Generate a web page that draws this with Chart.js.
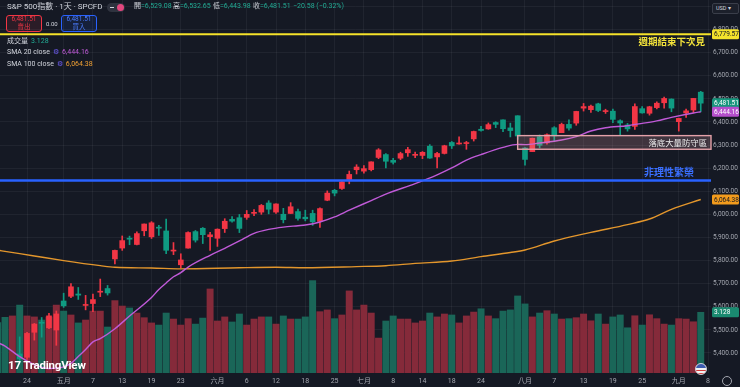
<!DOCTYPE html>
<html lang="zh-Hant">
<head>
<meta charset="UTF-8">
<meta name="viewport" content="width=device-width, initial-scale=1.0">
<title>S&P 500指數 · 1天 · SPCFD</title>
<script src="https://cdn.jsdelivr.net/npm/chart.js@4.4.1/dist/chart.umd.min.js"></script>
<style>
    html, body { margin: 0; padding: 0; background: #151924; }
    .wrap {
        position: relative; width: 740px; height: 387px; overflow: hidden;
        font-family: Roboto, "Noto Sans CJK TC", sans-serif; color: #d1d4dc;
    }
    #chart { position: absolute; left: 0; top: 0; }
    .ov { position: absolute; white-space: nowrap; line-height: 1; }
    .title { left: 7px; top: 3px; font-size: 8px; }
    .pill { left: 107px; top: 3px; width: 18px; height: 9px; border-radius: 5px; background: #2f333f; }
    .pill i { position: absolute; right: 1px; top: 1px; width: 7px; height: 7px; border-radius: 50%; background: #e2477e; }
    .pill s { position: absolute; left: 3px; top: 4px; width: 4px; height: 1px; background: #d1d4dc; }
    .ohlc { top: 3px; font-size: 7px; }
    .ohlc span { color: #22ab94; }
    .btn {
        position: absolute; top: 15px; width: 34px; height: 15px; border: 1px solid;
        border-radius: 3px; font-size: 6.5px; text-align: center; line-height: 7.5px;
    }
    .sell { left: 6px; border-color: #f23645; color: #f23645; background: rgba(242, 54, 69, 0.1); }
    .buy { left: 61px; border-color: #2962ff; color: #4b7dff; background: rgba(41, 98, 255, 0.1); }
    .spread { left: 46px; top: 21px; font-size: 6px; }
    .leg { left: 7px; font-size: 7px; }
    .leg span { margin-left: 3px; }
    .gear { color: #6d5cf0; font-size: 7px; margin-left: 3px; }
    .usd {
        left: 712px; top: 3px; width: 25px; height: 9px; border: 1px solid #3a3e4a; border-radius: 2px;
        background: #1c202b; font-size: 5.5px; line-height: 9px; text-indent: 3px;
    }
    .logo { left: 8px; top: 360px; font-size: 11.5px; font-weight: bold; color: #fff; letter-spacing: -0.2px; }
    .flag {
        left: 695px; top: 363px; width: 10px; height: 10px; border-radius: 50%;
        background: linear-gradient(#3c5bb0 0 45%, transparent 45%), repeating-linear-gradient(#d23b3b 0 1.5px, #f2f2f2 1.5px 3px);
        border: 1px solid #d1d4dc;
    }
    .cog { left: 722px; top: 376px; width: 8px; height: 8px; border-radius: 50%; border: 1px solid #a3a6af; }
</style>
</head>
<body>
<div class="wrap">
    <canvas id="chart" width="740" height="387"></canvas>

    <div class="ov title">S&amp;P 500指數 · 1天 · SPCFD</div>
    <div class="ov pill"><s></s><i></i></div>
    <div class="ov ohlc" style="left:134px">開<span id="vOpen"></span></div>
    <div class="ov ohlc" style="left:173px">高<span id="vHigh"></span></div>
    <div class="ov ohlc" style="left:213px">低<span id="vLow"></span></div>
    <div class="ov ohlc" style="left:253px">收<span id="vClose"></span></div>
    <div class="ov ohlc" style="left:293px"><span id="vChange"></span></div>

    <div class="btn sell"><span class="px"></span><br>賣出</div>
    <div class="ov spread">0.00</div>
    <div class="btn buy"><span class="px"></span><br>買入</div>

    <div class="ov leg" style="top:38px">成交量<span id="vVol" style="color:#22ab94"></span></div>
    <div class="ov leg" style="top:49px">SMA 20 close<span class="gear">⚙</span><span id="vSma20" style="color:#c05ad8"></span></div>
    <div class="ov leg" style="top:61px">SMA 100 close<span class="gear">⚙</span><span id="vSma100" style="color:#f0a033"></span></div>

    <div class="ov usd">USD ▾</div>
    <div class="ov logo">17 TradingView</div>
    <div class="ov flag"></div>
    <div class="ov cog"></div>
</div>

<script>
    // trading sessions (MM-DD, 2025); the last one is the next session, no bar yet
    const dates = [
        '04-17', '04-21', '04-22', '04-23', '04-24', '04-25', '04-28', '04-29', '04-30',
        '05-01', '05-02', '05-05', '05-06', '05-07', '05-08', '05-09', '05-12', '05-13', '05-14',
        '05-15', '05-16', '05-19', '05-20', '05-21', '05-22', '05-23', '05-27', '05-28', '05-29', '05-30',
        '06-02', '06-03', '06-04', '06-05', '06-06', '06-09', '06-10', '06-11', '06-12', '06-13',
        '06-16', '06-17', '06-18', '06-20', '06-23', '06-24', '06-25', '06-26', '06-27', '06-30',
        '07-01', '07-02', '07-03', '07-07', '07-08', '07-09', '07-10', '07-11', '07-14', '07-15',
        '07-16', '07-17', '07-18', '07-21', '07-22', '07-23', '07-24', '07-25', '07-28', '07-29',
        '07-30', '07-31', '08-01', '08-04', '08-05', '08-06', '08-07', '08-08', '08-11', '08-12',
        '08-13', '08-14', '08-15', '08-18', '08-19', '08-20', '08-21', '08-22', '08-25', '08-26',
        '08-27', '08-28', '08-29', '09-02', '09-03', '09-04', '09-05', '09-08'
    ];

    const open = [
        5305.45, 5232.94, 5207.67, 5395.92, 5381.38, 5489.69, 5529.22, 5508.87, 5499.44,
        5625.14, 5645.46, 5655.32, 5605.88, 5614.21, 5663.22, 5679.10, 5807.21, 5854.21, 5897.00,
        5869.73, 5929.09, 5902.88, 5944.66, 5928.40, 5841.26, 5781.89, 5854.07, 5925.54, 5939.92, 5903.67,
        5896.68, 5938.56, 5978.51, 5985.67, 5987.06, 6004.60, 6009.91, 6049.38, 6009.90, 6000.56,
        6004.00, 6012.15, 5987.93, 6004.18, 5969.67, 6061.21, 6104.23, 6112.10, 6150.70, 6193.36,
        6187.25, 6193.73, 6246.46, 6259.02, 6233.87, 6243.27, 6266.68, 6255.68, 6255.15, 6295.29,
        6248.85, 6263.86, 6311.36, 6304.74, 6306.60, 6326.90, 6368.60, 6370.01, 6397.69, 6409.26,
        6374.41, 6427.02, 6287.28, 6271.71, 6336.23, 6309.63, 6375.14, 6353.64, 6389.67, 6395.17,
        6460.00, 6453.45, 6478.54, 6445.02, 6446.87, 6405.34, 6387.01, 6381.09, 6457.67, 6437.76,
        6462.18, 6483.25, 6499.32, 6401.49, 6439.08, 6451.92, 6529.08
    ];
    const high = [
        5328.31, 5232.94, 5309.60, 5469.69, 5489.40, 5528.11, 5553.66, 5571.95, 5581.84,
        5658.91, 5700.70, 5683.58, 5649.40, 5654.70, 5720.10, 5692.39, 5845.04, 5906.63, 5906.00,
        5924.11, 5958.62, 5968.61, 5953.06, 5980.05, 5878.08, 5829.51, 5924.33, 5930.41, 5943.13, 5922.14,
        5937.40, 5981.35, 5990.48, 5999.70, 6016.87, 6021.31, 6043.01, 6059.40, 6045.43, 6026.16,
        6050.83, 6023.25, 6018.25, 6018.20, 6028.84, 6101.77, 6108.51, 6146.52, 6187.68, 6215.08,
        6210.78, 6227.60, 6284.65, 6262.86, 6242.70, 6269.18, 6290.22, 6269.44, 6272.04, 6302.04,
        6268.61, 6299.45, 6315.61, 6336.08, 6316.12, 6360.64, 6381.31, 6395.82, 6401.07, 6409.26,
        6395.20, 6427.02, 6288.71, 6330.30, 6343.83, 6349.14, 6379.77, 6395.16, 6409.31, 6446.55,
        6480.28, 6473.33, 6481.34, 6455.35, 6456.29, 6409.44, 6393.83, 6478.27, 6466.89, 6468.09,
        6487.30, 6508.23, 6500.12, 6416.54, 6455.64, 6502.54, 6532.65
    ];
    const low = [
        5255.58, 5101.63, 5207.67, 5356.00, 5371.96, 5455.86, 5468.64, 5505.70, 5433.24,
        5597.35, 5639.27, 5631.84, 5586.74, 5578.64, 5644.06, 5650.71, 5786.08, 5844.30, 5868.65,
        5867.44, 5907.36, 5895.69, 5909.26, 5829.51, 5825.82, 5767.41, 5854.07, 5880.00, 5873.80, 5843.66,
        5861.43, 5921.63, 5966.11, 5921.20, 5978.63, 5994.18, 6000.26, 6002.32, 6003.88, 5963.21,
        6004.00, 5974.80, 5971.89, 5952.56, 5943.23, 6059.15, 6080.10, 6107.82, 6132.35, 6174.97,
        6177.97, 6188.29, 6240.99, 6201.52, 6217.93, 6237.13, 6251.14, 6245.80, 6241.36, 6242.51,
        6201.43, 6261.45, 6285.14, 6303.79, 6281.71, 6317.49, 6360.57, 6368.53, 6375.62, 6358.59,
        6335.45, 6324.71, 6212.69, 6271.71, 6287.68, 6303.75, 6317.86, 6353.64, 6364.47, 6385.76,
        6447.30, 6441.90, 6444.98, 6437.02, 6396.87, 6343.82, 6360.32, 6368.25, 6438.06, 6429.70,
        6456.70, 6459.94, 6444.17, 6360.55, 6420.17, 6441.00, 6443.98
    ];
    const close = [
        5282.70, 5158.20, 5287.76, 5375.86, 5484.77, 5525.21, 5528.75, 5560.83, 5569.06,
        5604.14, 5686.67, 5650.38, 5606.91, 5631.28, 5663.94, 5659.91, 5844.19, 5886.55, 5892.58,
        5916.93, 5958.38, 5963.60, 5940.46, 5844.61, 5842.01, 5802.82, 5921.54, 5888.55, 5912.17, 5911.69,
        5935.94, 5970.37, 5970.81, 5939.30, 6000.36, 6005.88, 6038.81, 6022.24, 6045.26, 5976.97,
        6033.11, 5982.72, 5980.87, 5967.84, 6025.17, 6092.18, 6092.16, 6141.02, 6173.07, 6204.95,
        6198.01, 6227.42, 6279.35, 6229.98, 6225.52, 6263.26, 6280.46, 6259.75, 6268.56, 6243.76,
        6263.70, 6297.36, 6296.79, 6305.60, 6309.62, 6358.91, 6363.35, 6388.64, 6389.77, 6370.86,
        6362.90, 6339.39, 6238.01, 6329.94, 6299.19, 6345.06, 6340.00, 6389.45, 6373.45, 6445.76,
        6466.58, 6468.54, 6449.80, 6449.15, 6411.37, 6395.78, 6370.17, 6466.91, 6439.32, 6465.94,
        6481.40, 6501.86, 6460.26, 6415.54, 6448.26, 6502.09, 6481.51
    ];
    // volume, billions
    const volume = [
        2.60, 2.87, 2.94, 3.50, 2.94, 2.89, 2.73, 2.89, 3.50,
        3.19, 2.99, 2.58, 2.73, 3.19, 3.19, 2.37, 3.73, 3.45, 3.35,
        3.09, 2.85, 2.58, 2.47, 3.09, 2.78, 2.47, 2.80, 2.52, 2.83, 4.33,
        2.68, 2.89, 2.63, 3.04, 2.47, 2.78, 2.89, 2.89, 2.52, 2.94,
        2.78, 2.78, 2.89, 4.76, 3.16, 3.25, 2.80, 2.99, 4.23, 3.25,
        3.50, 3.09, 1.80, 2.68, 2.94, 2.78, 2.78, 2.58, 2.68, 3.09,
        2.89, 3.04, 2.99, 2.58, 2.94, 3.14, 3.31, 2.94, 2.80, 3.19,
        3.25, 3.97, 3.56, 2.89, 3.09, 3.21, 3.04, 2.78, 2.80, 2.85,
        3.04, 2.69, 3.04, 2.52, 2.89, 2.99, 2.33, 2.95, 2.47, 3.00,
        2.80, 2.52, 2.47, 2.80, 2.78, 2.64, 3.128
    ];

    // moving averages
    const sma20Dates = [
        '04-17', '04-21', '04-23', '04-25', '04-29', '05-01', '05-02', '05-05', '05-06', '05-07',
        '05-08', '05-12', '05-14', '05-19', '05-20', '05-21', '05-22', '05-23', '05-27', '05-30',
        '06-03', '06-05', '06-09', '06-11', '06-13', '06-17', '06-18', '06-23', '06-25', '06-27',
        '07-02', '07-07', '07-11', '07-16', '07-18', '07-22', '07-24', '07-29', '07-31', '08-01',
        '08-05', '08-08', '08-12', '08-14', '08-18', '08-21', '08-25', '08-27', '08-29', '09-04', '09-05'
    ];
    const sma20Values = [
        5445, 5430, 5384, 5350, 5333, 5340, 5355, 5385, 5415, 5448,
        5462, 5505, 5560, 5640, 5675, 5703, 5730, 5748, 5772, 5823,
        5853, 5885, 5918, 5935, 5945, 5951, 5954, 5967, 5989, 6018,
        6060, 6088, 6133, 6171, 6201, 6235, 6259, 6290, 6303, 6302,
        6309, 6322, 6337, 6361, 6375, 6384, 6394, 6405, 6420, 6439, 6444.16
    ];
    const sma100Dates = [
        '04-17', '04-23', '04-25', '05-01', '05-08', '05-12', '05-19', '05-23', '06-05', '06-12',
        '06-18', '06-30', '07-07', '07-11', '07-18', '07-24', '07-30', '08-01', '08-07', '08-14',
        '08-21', '08-26', '08-29', '09-05'
    ];
    const sma100Values = [
        5845, 5830, 5820, 5800, 5778, 5771, 5768, 5764, 5769, 5771,
        5769, 5774, 5778, 5788, 5798, 5817, 5835, 5846, 5885, 5922,
        5956, 5980, 6022, 6064.38
    ];

    // drawings on the chart
    const weekEndLevel = 6779.57;
    const weekEndText = '週期結束下次見';
    const bubbleLevel = 6147;
    const bubbleText = '非理性繁榮';
    const zoneHigh = 6341;
    const zoneLow = 6282;
    const zoneFrom = '07-31';
    const zoneText = '落底大量防守區';

    // axis labels
    const tickDates = [
        '04-24', '05-01', '05-07', '05-13', '05-19', '05-23', '06-02', '06-06', '06-12', '06-18', '06-25',
        '07-01', '07-08', '07-14', '07-18', '07-24', '08-01', '08-07', '08-13', '08-19', '08-25', '09-02', '09-08'
    ];
    const tickLabels = [
        '24', '五月', '7', '13', '19', '23', '六月', '6', '12', '18', '25',
        '七月', '8', '14', '18', '24', '八月', '7', '13', '19', '25', '九月', '8'
    ];
    const priceTicks = [5400, 5500, 5600, 5700, 5800, 5900, 6000, 6100, 6200, 6300, 6400, 6500, 6600, 6700, 6800, 6900];

    // visible window
    const X_MIN = 0.31, X_MAX = 97.4;
    const PRICE_MIN = 5313.4, PRICE_MAX = 6928.1;
    const VOL_MAX = 19.22;

    const UP = '#f23645', DOWN = '#0f9b82';
    const VOL_UP = '#852a3a', VOL_DOWN = '#1a6658';
    const GRID = 'rgba(255, 255, 255, 0.05)';
    const AXIS_TEXT = '#a3a6af';

    const pos = d => dates.indexOf(d);
    const isUp = i => close[i] >= open[i];
    const fmt = v => v.toLocaleString('en-US', { minimumFractionDigits: 2, maximumFractionDigits: 2 });

    // header texts
    const last = close.length - 1;
    const change = close[last] - close[last - 1];
    document.getElementById('vOpen').textContent = '=' + fmt(open[last]);
    document.getElementById('vHigh').textContent = '=' + fmt(high[last]);
    document.getElementById('vLow').textContent = '=' + fmt(low[last]);
    document.getElementById('vClose').textContent = '=' + fmt(close[last]);
    document.getElementById('vChange').textContent =
        (change < 0 ? '−' : '+') + fmt(Math.abs(change)) + ' (' + (change < 0 ? '−' : '+') +
        Math.abs(change / close[last - 1] * 100).toFixed(2) + '%)';
    document.querySelectorAll('.btn .px').forEach(el => el.textContent = fmt(close[last]));
    document.getElementById('vVol').textContent = volume[last].toFixed(3);
    document.getElementById('vSma20').textContent = fmt(sma20Values[sma20Values.length - 1]);
    document.getElementById('vSma100').textContent = fmt(sma100Values[sma100Values.length - 1]);

    const candleColors = close.map((c, i) => isUp(i) ? UP : DOWN);

    function roundRect(ctx, x, y, w, h, r) {
        ctx.beginPath();
        ctx.moveTo(x + r, y);
        ctx.arcTo(x + w, y, x + w, y + h, r);
        ctx.arcTo(x + w, y + h, x, y + h, r);
        ctx.arcTo(x, y + h, x, y, r);
        ctx.arcTo(x, y, x + w, y, r);
        ctx.closePath();
    }

    const drawingsPlugin = {
        id: 'drawings',
        afterDatasetsDraw(chart) {
            const { ctx, chartArea, scales: { x, y } } = chart;
            ctx.save();

            // defence zone
            const x1 = x.getPixelForValue(pos(zoneFrom));
            const yTop = y.getPixelForValue(zoneHigh);
            const yBot = y.getPixelForValue(zoneLow);
            ctx.fillStyle = 'rgba(235, 160, 170, 0.2)';
            ctx.fillRect(x1, yTop, chartArea.right - x1, yBot - yTop);
            ctx.strokeStyle = '#e4a1a9';
            ctx.lineWidth = 1.4;
            ctx.strokeRect(x1, yTop, chartArea.right - x1, yBot - yTop);
            ctx.font = '8.4px "Noto Sans CJK TC"';
            ctx.fillStyle = '#ececec';
            ctx.textAlign = 'right';
            ctx.textBaseline = 'middle';
            ctx.fillText(zoneText, chartArea.right - 4, (yTop + yBot) / 2);

            // line captions
            ctx.font = 'bold 9.5px "Noto Sans CJK TC"';
            ctx.fillStyle = '#f2e23a';
            ctx.fillText(weekEndText, chartArea.right - 6, y.getPixelForValue(weekEndLevel) + 7.5);
            ctx.font = 'bold 10px "Noto Sans CJK TC"';
            ctx.fillStyle = '#3a6fff';
            ctx.fillText(bubbleText, chartArea.right - 17, y.getPixelForValue(bubbleLevel) - 8.5);
            ctx.restore();
        },
        afterDraw(chart) {
            const { ctx, chartArea, scales: { y, yv } } = chart;
            const tags = [
                { px: y.getPixelForValue(weekEndLevel), text: fmt(weekEndLevel), bg: '#f4e32c', fg: '#131722' },
                { px: y.getPixelForValue(close[last]), text: fmt(close[last]), bg: '#16957c', fg: '#ffffff' },
                { px: y.getPixelForValue(sma20Values[sma20Values.length - 1]), text: fmt(sma20Values[sma20Values.length - 1]), bg: '#b54fcc', fg: '#ffffff' },
                { px: y.getPixelForValue(sma100Values[sma100Values.length - 1]), text: fmt(sma100Values[sma100Values.length - 1]), bg: '#f29b1d', fg: '#131722' },
                { px: yv.getPixelForValue(volume[last]), text: volume[last].toFixed(3), bg: '#1a8a70', fg: '#ffffff' }
            ];
            ctx.save();
            ctx.font = '6.5px Roboto';
            ctx.textAlign = 'left';
            ctx.textBaseline = 'middle';
            tags.forEach(t => {
                roundRect(ctx, chartArea.right + 1, t.px - 5, 27, 10, 1.5);
                ctx.fillStyle = t.bg;
                ctx.fill();
                ctx.fillStyle = t.fg;
                ctx.fillText(t.text, chartArea.right + 3, t.px + 0.5);
            });
            ctx.restore();
        }
    };

    Chart.defaults.font.family = 'Roboto, "Noto Sans CJK TC", sans-serif';

    new Chart(document.getElementById('chart'), {
        type: 'bar',
        data: {
            datasets: [
                {
                    type: 'bar', label: '成交量', yAxisID: 'yv', order: 6, grouped: false, clip: 0,
                    data: volume.map((v, i) => ({ x: i, y: v })),
                    backgroundColor: volume.map((v, i) => isUp(i) ? VOL_UP : VOL_DOWN),
                    barThickness: 6.3
                },
                {
                    type: 'bar', label: 'wick', yAxisID: 'y', order: 5, grouped: false, clip: 0,
                    data: low.map((l, i) => ({ x: i, y: [l, high[i]] })),
                    backgroundColor: candleColors,
                    barThickness: 1
                },
                {
                    type: 'bar', label: 'S&P 500', yAxisID: 'y', order: 4, grouped: false, clip: 0,
                    data: open.map((o, i) => ({ x: i, y: [o, close[i]] })),
                    backgroundColor: candleColors,
                    barThickness: 5, minBarLength: 1
                },
                {
                    type: 'line', label: 'SMA 100 close', yAxisID: 'y', order: 3, clip: 0,
                    data: sma100Dates.map((d, k) => ({ x: pos(d), y: sma100Values[k] })),
                    borderColor: '#e3962c', borderWidth: 1.4, pointRadius: 0, cubicInterpolationMode: 'monotone'
                },
                {
                    type: 'line', label: 'SMA 20 close', yAxisID: 'y', order: 2, clip: 0,
                    data: sma20Dates.map((d, k) => ({ x: pos(d), y: sma20Values[k] })),
                    borderColor: '#c05ad8', borderWidth: 1.4, pointRadius: 0, cubicInterpolationMode: 'monotone'
                },
                {
                    type: 'line', label: bubbleText, yAxisID: 'y', order: 1, clip: 0,
                    data: [{ x: X_MIN, y: bubbleLevel }, { x: X_MAX, y: bubbleLevel }],
                    borderColor: '#2962ff', borderWidth: 2.5, pointRadius: 0
                },
                {
                    type: 'line', label: weekEndText, yAxisID: 'y', order: 0, clip: 0,
                    data: [{ x: X_MIN, y: weekEndLevel }, { x: X_MAX, y: weekEndLevel }],
                    borderColor: '#f5e22a', borderWidth: 2, pointRadius: 0
                }
            ]
        },
        options: {
            responsive: false,
            animation: false,
            layout: { padding: 0 },
            plugins: { legend: { display: false }, tooltip: { enabled: false } },
            scales: {
                x: {
                    type: 'linear', min: X_MIN, max: X_MAX, offset: false,
                    afterBuildTicks: s => { s.ticks = tickDates.map(d => ({ value: pos(d) })); },
                    afterFit: s => { s.height = 14; s.paddingLeft = 0; s.paddingRight = 0; },
                    ticks: {
                        autoSkip: false, maxRotation: 0, color: AXIS_TEXT, font: { size: 7 }, padding: 4,
                        callback: (v, i) => tickLabels[i]
                    },
                    grid: { color: GRID, drawTicks: false, offset: false },
                    border: { display: false }
                },
                y: {
                    type: 'linear', position: 'right', min: PRICE_MIN, max: PRICE_MAX,
                    afterBuildTicks: s => { s.ticks = priceTicks.map(v => ({ value: v })); },
                    afterFit: s => { s.width = 29; s.paddingTop = 0; s.paddingBottom = 0; },
                    ticks: { color: AXIS_TEXT, font: { size: 6.5 }, padding: 2, callback: v => fmt(v) },
                    grid: { color: GRID, drawTicks: false },
                    border: { display: false }
                },
                yv: { display: false, min: 0, max: VOL_MAX }
            }
        },
        plugins: [drawingsPlugin]
    });
</script>
</body>
</html>
